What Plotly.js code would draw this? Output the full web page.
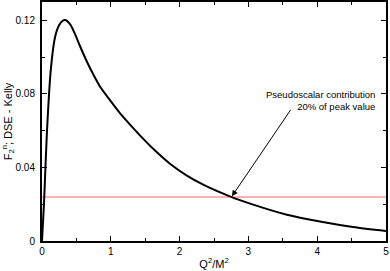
<!DOCTYPE html>
<html><head><meta charset="utf-8">
<script src="https://cdn.plot.ly/plotly-3.0.1.min.js"></script>
<style>html,body{margin:0;padding:0;background:#fff}#chart{width:390px;height:271px}</style>
</head><body><div id="chart"></div>
<script>
const q2 = [0, 0.03, 0.07, 0.13, 0.19, 0.25, 0.3, 0.34, 0.41, 0.48, 0.55, 0.65, 0.75, 0.85, 1.0, 1.13, 1.28, 1.42, 1.62, 1.86, 2.1, 2.35, 2.73, 3.07, 3.56, 4.04, 4.52, 5.0];
const f2n = [0, 0.021, 0.058, 0.094, 0.111, 0.1175, 0.1198, 0.1202, 0.1178, 0.1125, 0.1062, 0.0978, 0.0903, 0.0836, 0.0760, 0.0697, 0.0633, 0.0576, 0.0500, 0.0420, 0.0357, 0.0305, 0.0243, 0.0198, 0.0143, 0.0106, 0.0076, 0.0054];
const refX = [0, 5];
const refY = [0.024, 0.024];
const yTicks = [0, 0.04, 0.08, 0.12];
const yTickText = ["0", "0.04", "0.08", "0.12"];
const xTicks = [0, 1, 2, 3, 4, 5];

const fam = "Liberation Sans, Arial, sans-serif";
const tickFam = "Liberation Sans Narrow, Arial Narrow, Liberation Sans, sans-serif";
const data = [
  {x: refX, y: refY, mode: "lines", line: {color: "#ff9a9a", width: 1.5}, hoverinfo: "skip"},
  {x: q2, y: f2n, mode: "lines", line: {color: "#000", width: 2, shape: "spline", smoothing: 0.8}}
];
const axBase = {showline: true, linewidth: 2, linecolor: "#000", mirror: "ticks", ticks: "inside",
  ticklen: 5, tickwidth: 1, tickcolor: "#000", showgrid: false, zeroline: false,
  tickfont: {family: tickFam, color: "#000000", size: 10}};
const layout = {
  width: 390, height: 271, margin: {l: 42, r: 4, t: 2, b: 30},
  paper_bgcolor: "#fff", plot_bgcolor: "#fff", showlegend: false, font: {family: fam, color: "#000000"},
  xaxis: Object.assign({}, axBase, {range: [0, 5], tickvals: xTicks,
    minor: {dtick: 0.5, ticks: "inside", ticklen: 3, tickcolor: "#000"},
    title: {text: "Q<sup>2</sup>/M<sup>2</sup>", font: {family: fam, color: "#000000", size: 11}, standoff: 4}}),
  yaxis: Object.assign({}, axBase, {range: [0, 0.13], tickvals: yTicks, ticktext: yTickText,
    minor: {tickvals: [0.02, 0.06, 0.1], ticks: "inside", ticklen: 3, tickcolor: "#000"},
    ticklabelstandoff: 3,
    title: {text: "F<sub>2</sub><sup>n</sup>; DSE - Kelly", font: {family: fam, color: "#000000", size: 11}, standoff: 8}}),
  annotations: [
    {x: 2.76, y: 0.0243, ax: 3.63, ay: 0.0722, axref: "x", ayref: "y", xref: "x", yref: "y",
     text: "", showarrow: true, arrowhead: 2, arrowsize: 1.2, arrowwidth: 1, arrowcolor: "#000"},
    {x: 4.87, y: 0.0765, xref: "x", yref: "y", xanchor: "right", yanchor: "middle", align: "right",
     text: "Pseudoscalar contribution<br>20% of peak value", showarrow: false,
     font: {family: fam, color: "#000000", size: 9.5}}
  ]
};
Plotly.newPlot("chart", data, layout, {displayModeBar: false, staticPlot: true});
</script></body></html>
